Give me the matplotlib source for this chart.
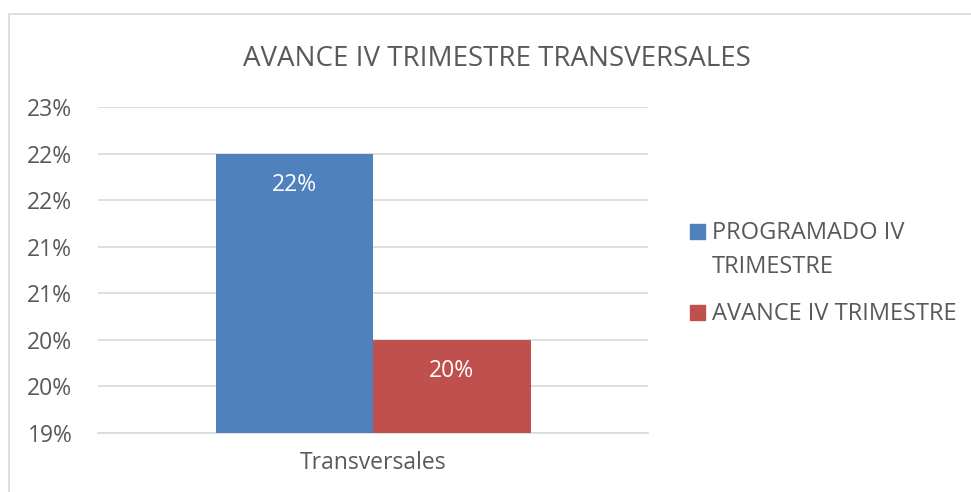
import math
import matplotlib.pyplot as plt
import matplotlib.patches as mpatches
from matplotlib.ticker import FuncFormatter

plt.rcParams['font.family'] = ['Open Sans', 'DejaVu Sans']

# Data
category = ['Transversales']
series = ['PROGRAMADO IV\nTRIMESTRE', 'AVANCE IV TRIMESTRE']
values = [0.22, 0.20]
colors = ['#4F81BD', '#C0504D']
title = 'AVANCE IV TRIMESTRE TRANSVERSALES'

text_color = '#595959'
W, H = 971, 492
fig = plt.figure(figsize=(W / 100, H / 100), dpi=100)


def pct(y, pos=None):
    # Excel style rounding (half up)
    return '{:d}%'.format(int(math.floor(y * 100 + 0.5 + 1e-9)))


# chart border
fig.patches.append(mpatches.Rectangle((9 / W, -0.1), (W + 20) / W, (H - 14) / H + 0.1,
                                      transform=fig.transFigure, fill=False,
                                      edgecolor='#D9D9D9', linewidth=1.2))

ax = fig.add_axes([98 / W, 1 - 433 / H, 550 / W, (433 - 107) / H])
bw = 157.5 / 550
for i, (v, c) in enumerate(zip(values, colors)):
    x = (i - 0.5) * bw
    ax.bar(x, v, width=bw, color=c, zorder=3)
    ax.annotate(pct(v), (x, v), xytext=(0, -22.5), textcoords='offset points',
                ha='center', va='center', color='white', fontsize=16.5, zorder=4)

ax.set_ylim(0.19, 0.225)
ax.set_yticks([0.19 + 0.005 * k for k in range(8)])
ax.yaxis.set_major_formatter(FuncFormatter(pct))
ax.set_xlim(-0.5, 0.5)
ax.set_xticks([0])
ax.set_xticklabels(category)
ax.grid(axis='y', color='#D9D9D9', linewidth=1.2, zorder=0)
for s in ax.spines.values():
    s.set_visible(False)
ax.spines['bottom'].set_visible(True)
ax.spines['bottom'].set_color('#D9D9D9')
ax.spines['bottom'].set_linewidth(1.2)
ax.tick_params(length=0, labelsize=16.5, labelcolor=text_color)
ax.tick_params(axis='y', pad=18.5)
ax.tick_params(axis='x', pad=13)

fig.text(497 / W, 1 - 59 / H, title, ha='center', va='center',
         fontsize=20, color=text_color)

# legend
leg_y = [232, 313]
for lab, c, y in zip(series, colors, leg_y):
    fig.patches.append(mpatches.Rectangle((690 / W, 1 - (y + 7) / H), 15 / W, 15 / H,
                                          transform=fig.transFigure, color=c))
    fig.text(712 / W, 1 - (y - 11) / H, lab, ha='left', va='top',
             fontsize=17, color=text_color, linespacing=1.55)

fig.savefig('out.png', dpi=100)
